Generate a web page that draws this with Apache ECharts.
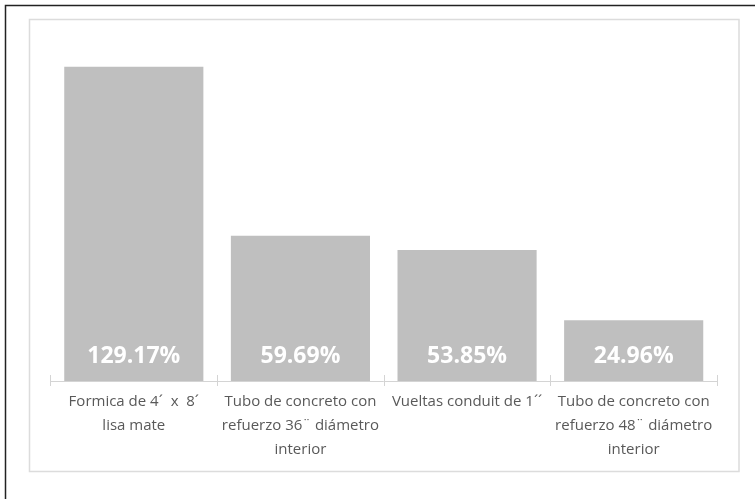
<!DOCTYPE html>
<html>
<head>
<meta charset="utf-8">
<script src="https://cdn.jsdelivr.net/npm/echarts@6/dist/echarts.min.js"></script>
<style>
  html, body { margin: 0; padding: 0; background: #fff; }
  #myChart { width: 755px; height: 499px; }
</style>
</head>
<body>
<div id="myChart"></div>
<script>
// datos
let categories = [
    'Formica de 4´  x  8´\nlisa mate',
    'Tubo de concreto con\nrefuerzo 36¨ diámetro\ninterior',
    'Vueltas conduit de 1´´',
    'Tubo de concreto con\nrefuerzo 48¨ diámetro\ninterior'
];
let values = [129.17, 59.69, 53.85, 24.96];

let myChart = echarts.init(document.getElementById('myChart'));

let option = {
    backgroundColor: '#fff',
    animation: false,
    graphic: [
        {
            type: 'rect',
            shape: { x: 5.5, y: 5.5, width: 800, height: 600 },
            style: { fill: 'none', stroke: '#222', lineWidth: 1.5 },
            silent: true
        },
        {
            type: 'rect',
            shape: { x: 29.5, y: 19.5, width: 709.5, height: 452 },
            style: { fill: 'none', stroke: '#dcdcdc', lineWidth: 1.5 },
            silent: true
        }
    ],
    grid: {
        left: 50.5,
        right: 38,
        top: 40.3,
        bottom: 118,
        containLabel: false
    },
    xAxis: [
        {
            type: 'category',
            data: categories,
            axisLine: { lineStyle: { color: '#d4d4d4', width: 1 } },
            axisTick: { show: true, length: 5, alignWithLabel: false, lineStyle: { color: '#d4d4d4' } },
            axisLabel: {
                interval: 0,
                color: '#595959',
                fontFamily: 'Open Sans',
                fontSize: 15,
                lineHeight: 24,
                margin: 9
            }
        },
        {
            type: 'category',
            data: categories,
            position: 'bottom',
            axisLine: { show: false },
            axisTick: { show: true, inside: true, length: 6, lineStyle: { color: '#d4d4d4' } },
            axisLabel: { show: false }
        }
    ],
    yAxis: {
        type: 'value',
        min: 0,
        max: 140,
        show: false,
        splitLine: { show: false }
    },
    series: [
        {
            type: 'bar',
            data: values,
            barCategoryGap: '16.5%',
            itemStyle: { color: '#bfbfbf' },
            label: {
                show: true,
                position: 'insideBottom',
                distance: 13,
                color: '#fff',
                fontFamily: 'Open Sans',
                fontWeight: 'bold',
                fontSize: 23,
                formatter: function (p) {
                    return p.value.toFixed(2) + '%';
                }
            }
        }
    ]
};
myChart.setOption(option);
</script>
</body>
</html>
